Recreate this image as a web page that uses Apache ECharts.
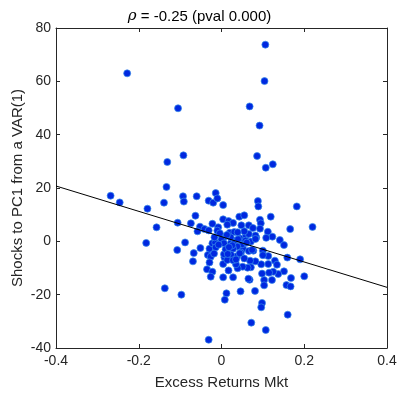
<!DOCTYPE html>
<html><head><meta charset="utf-8">
<script src="https://cdn.jsdelivr.net/npm/echarts@6/dist/echarts.min.js"></script>
<style>html,body{margin:0;padding:0;background:#fff}#c{width:399px;height:393px}</style>
</head><body><div id="c"></div>
<script>
const xVals = [0.106,-0.228,0.104,-0.105,0.068,0.092,-0.092,-0.131,0.086,0.124,0.107,-0.133,-0.268,-0.246,-0.179,-0.139,-0.093,-0.091,-0.060,-0.014,-0.031,-0.020,-0.010,0.004,0.088,0.089,0.182,-0.157,-0.106,-0.182,-0.063,-0.074,-0.052,-0.058,-0.041,-0.031,-0.022,-0.008,-0.010,0.004,0.017,0.028,0.014,0.043,0.055,0.048,0.066,0.076,0.093,0.095,0.093,0.119,0.166,0.220,0.112,0.123,0.141,0.151,0.084,0.082,-0.088,-0.107,-0.067,-0.051,-0.069,-0.033,-0.026,-0.029,-0.022,-0.015,-0.014,-0.018,-0.035,-0.022,-0.026,0.004,0.028,0.004,0.017,0.007,0.011,0.006,-0.137,-0.097,0.012,0.008,0.046,0.081,0.068,0.065,0.098,0.096,0.072,0.107,-0.031,0.160,0.103,0.103,0.122,0.157,0.167,0.168,0.200,0.190,0.159,0.151,0.137,0.125,0.115,0.098,0.129,0.134,0.113,0.096,0.113,0.100,0.100,0.082,0.069,0.071,0.063,0.051,0.039,0.035,0.038,0.055,0.052,0.066,0.077,0.050,0.038,0.028,0.023,0.014,0.028,0.023,0.032,0.045,0.059,0.066,0.055,0.058,0.071,0.082,0.020,0.031,0.022,0.006,0.000,0.006,-0.007,0.010,0.026,0.040,0.061,0.047,0.013,0.035,0.074,-0.004,0.018,0.044,0.108,-0.017,0.015,-0.029,0.039];
const yVals = [73.75,63.0,60.1,49.9,50.6,43.4,32.25,29.75,32.0,28.9,27.6,20.4,17.1,14.6,12.25,14.5,16.9,14.9,16.9,18.1,15.25,14.5,16.1,13.6,15.1,13.1,13.1,5.25,7.0,-0.6,9.6,6.75,5.5,3.75,4.6,4.1,6.6,5.25,4.0,8.25,7.6,6.9,6.25,9.25,9.75,6.0,6.0,5.0,8.1,6.75,4.75,9.25,4.6,5.4,3.6,1.75,0.5,-1.4,1.4,2.2,-0.4,-3.25,-4.4,-2.5,-7.5,-5.1,-5.75,-2.75,-0.75,-0.5,-2.25,-4.6,-10.5,-11.4,-13.25,-13.5,-13.5,-8.5,-10.9,-6.0,-3.4,-4.8,-17.6,-20.0,-19.5,-21.9,-18.75,-18.6,-14.4,-14.0,-23.1,-24.75,-30.5,-33.25,-36.9,-27.5,-14.5,-16.5,-14.5,-16.4,-16.9,-13.75,-13.1,-6.75,-6.1,-11.25,-12.25,-11.4,-11.75,-12.1,-7.25,-8.75,-8.5,-8.6,-5.5,-3.5,-5.2,-7.5,-7.25,-9.75,-9.9,-9.5,-10.1,-8.6,-5.5,-6.4,-2.75,-3.6,-3.5,-1.1,-1.9,-2.75,-5.0,-7.0,-7.1,-0.6,0.25,1.1,2.1,2.75,3.75,0.25,-0.1,0.9,3.25,3.5,1.5,1.6,0.75,-0.75,-1.25,-3.0,-1.5,0.8,-0.5,-4.2,2.4,-6.8,-3.2,3.0,-2.2,-4.5,1.3,1.5,-4.75,-7.9,3.4];
const fitX = [-0.4, 0.4];
const fitY = [20.75, -17.25];
const xTicks = [-0.4,-0.2,0,0.2,0.4];
const yTicks = [-40,-20,0,20,40,60,80];

const pts = xVals.map((x,i)=>[x,yVals[i]]);
const font = 'Liberation Sans, Arial, Helvetica, sans-serif';
const chart = echarts.init(document.getElementById('c'), null, {renderer:'canvas'});
const axisCommon = {
  axisLine:{show:true,onZero:false,lineStyle:{color:'#262626',width:1}},
  axisTick:{show:true,inside:true,length:4,lineStyle:{color:'#262626'}},
  splitLine:{show:false}
};
chart.setOption({
  animation:false,
  title:{text:'{r|ρ} = -0.25 (pval 0.000)',left:'center',top:4,
    textStyle:{fontFamily:font,fontSize:15,fontWeight:'normal',color:'#000',
      rich:{r:{fontFamily:'DejaVu Serif, serif',fontStyle:'italic',fontSize:15,color:'#000'}}}},
  grid:{left:56,right:12,top:28,bottom:45,containLabel:false,outerBoundsMode:'none'},
  xAxis:[
    Object.assign({type:'value',min:-0.4,max:0.4,interval:0.2,position:'bottom',
      name:'Excess Returns Mkt',nameLocation:'middle',nameGap:27,
      nameTextStyle:{fontFamily:font,fontSize:15,color:'#262626'},
      axisLabel:{fontFamily:font,fontSize:14,color:'#262626',margin:6,
        formatter:v=>String(Math.round(v*10)/10)}},axisCommon),
    Object.assign({type:'value',min:-0.4,max:0.4,interval:0.2,position:'top',axisLabel:{show:false}},axisCommon)
  ],
  yAxis:[
    Object.assign({type:'value',min:-40,max:80,interval:20,position:'left',
      name:'Shocks to PC1 from a VAR(1)',nameLocation:'middle',nameGap:31,nameMoveOverlap:false,
      nameTextStyle:{fontFamily:font,fontSize:15,color:'#262626'},
      axisLabel:{fontFamily:font,fontSize:14,color:'#262626',margin:5}},axisCommon),
    Object.assign({type:'value',min:-40,max:80,interval:20,position:'right',axisLabel:{show:false}},axisCommon)
  ],
  series:[
    {type:'scatter',data:pts,symbolSize:7,
      itemStyle:{color:'#0028e0',borderColor:'#3a8ee8',borderWidth:0.7,opacity:1}},
    {type:'line',data:fitX.map((x,i)=>[x,fitY[i]]),symbol:'none',
      lineStyle:{color:'#000',width:1},z:3}
  ]
});
</script></body></html>
